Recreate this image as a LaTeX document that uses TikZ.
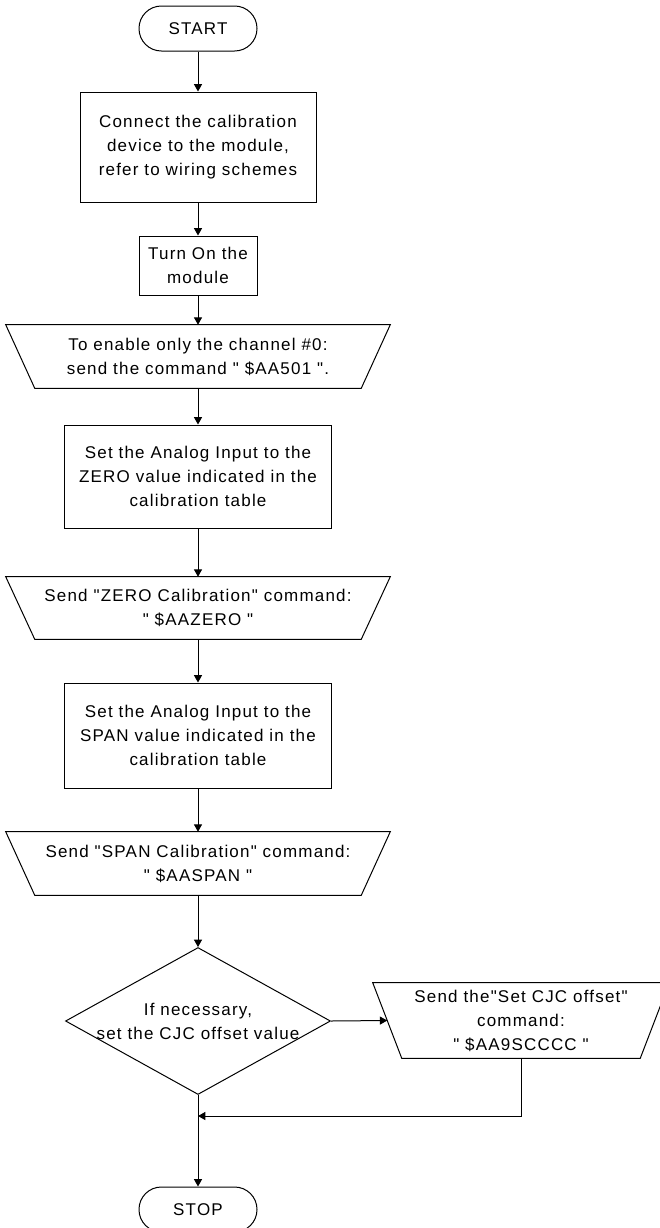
\documentclass[tikz,border=0pt]{standalone}
\usepackage{fontspec}
\newfontfamily\fcfont{Liberation Sans}[LetterSpace=7.0]
\usetikzlibrary{shapes.geometric,arrows.meta,calc}
\newcommand\drawtrap[2]{\draw[ln] (#1.south west) -- (#1.south east) -- ([xshift=#2]#1.north east) -- ([xshift=-#2]#1.north west) -- cycle;}
\begin{document}
\begin{tikzpicture}[x=0.75pt,y=-0.75pt,
  every node/.style={font=\fcfont\fontsize{12.75pt}{18pt}\selectfont, align=center, inner sep=0pt},
  ln/.style={line width=0.75pt, draw=black},
  proc/.style={draw, rectangle, line width=0.75pt},
  term/.style={draw, rectangle, rounded corners=16.8pt, minimum width=88.5pt, minimum height=33.75pt, line width=0.75pt},
  io/.style={rectangle},
  arr/.style={line width=0.75pt, -{Triangle[length=5.5pt,width=6pt]}}]
\useasboundingbox (0,0) rectangle (660,1228);

\node[term] (start) at (198,28.5) {START};
\node[proc, minimum width=177pt, minimum height=82.5pt] (b1) at (198,147) {Connect the calibration\\device to the module,\\refer to wiring schemes};
\node[proc, minimum width=88.5pt, minimum height=44.25pt] (b2) at (198,265.5) {Turn On the\\module};
\node[io, minimum width=244.5pt, minimum height=47.25pt] (t1) at (198,356.5) {To enable only the channel \#0:\\send the command " \$AA501 ".};
\node[proc, minimum width=200.25pt, minimum height=77.25pt] (b3) at (198,476.5) {Set the Analog Input to the\\ZERO value indicated in the\\calibration table};
\node[io, minimum width=244.5pt, minimum height=46.5pt] (t2) at (198,608) {Send "ZERO Calibration" command:\\" \$AAZERO "};
\node[proc, minimum width=200.25pt, minimum height=78.75pt] (b4) at (198,735.5) {Set the Analog Input to the\\SPAN value indicated in the\\calibration table};
\node[io, minimum width=244.5pt, minimum height=47.25pt] (t3) at (198,863.5) {Send "SPAN Calibration" command:\\" \$AASPAN "};
\node[draw, diamond, line width=0.75pt, minimum width=198.75pt, minimum height=110.25pt] (d) at (198,1021) {};
\node (dt) at (d.center) {If necessary,\\set the CJC offset value};
\node[io, minimum width=178.5pt, minimum height=56.25pt] (t4) at (521,1020.5) {Send the"Set CJC offset"\\command:\\" \$AA9SCCCC "};
\node[term] (stop) at (198,1209.5) {STOP};
\coordinate (j) at (198,1116);

\drawtrap{t1}{21.75pt}
\drawtrap{t2}{21.75pt}
\drawtrap{t3}{21.75pt}
\drawtrap{t4}{21.75pt}

\draw[arr] (start) -- (b1);
\draw[arr] (b1) -- (b2);
\draw[arr] (b2) -- (t1);
\draw[arr] (t1) -- (b3);
\draw[arr] (b3) -- (t2);
\draw[arr] (t2) -- (b4);
\draw[arr] (b4) -- (t3);
\draw[arr] (t3) -- (d);
\draw[arr] (d.east) -- ([xshift=-10.875pt]t4.west);
\draw[arr] (d.south) -- (stop.north);
\draw[arr] (t4.south) |- (j);
\end{tikzpicture}
\end{document}
